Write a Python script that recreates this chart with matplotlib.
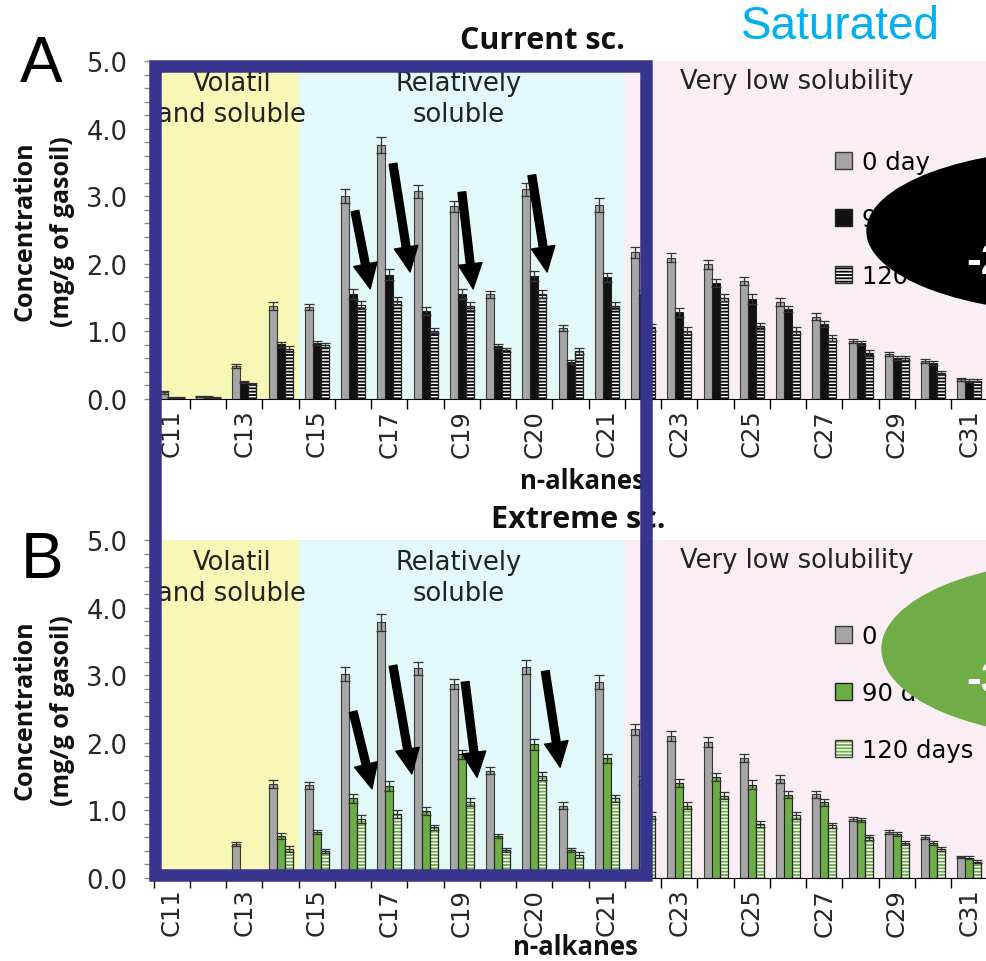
import matplotlib
matplotlib.use('Agg')
import matplotlib.pyplot as plt
import numpy as np
from matplotlib.patches import Rectangle, Ellipse, Patch, FancyArrowPatch

W, H = 987, 962

alkanes = ['C11', 'C12', 'C13', 'C14', 'C15', 'C16', 'C17', 'C18', 'C19', 'Pr', 'C20', 'Ph',
           'C21', 'C22', 'C23', 'C24', 'C25', 'C26', 'C27', 'C28', 'C29', 'C30', 'C31']

# mg/g of gasoil
current_0 = [0.10, 0.04, 0.49, 1.38, 1.36, 3.00, 3.76, 3.07, 2.85, 1.55, 3.10, 1.05,
             2.87, 2.17, 2.09, 1.99, 1.75, 1.43, 1.22, 0.86, 0.66, 0.56, 0.29]
current_90 = [0.02, 0.03, 0.25, 0.81, 0.83, 1.55, 1.84, 1.30, 1.55, 0.79, 1.82, 0.55,
              1.80, 1.55, 1.28, 1.72, 1.48, 1.33, 1.11, 0.83, 0.60, 0.53, 0.27]
current_120 = [0.02, 0.02, 0.22, 0.74, 0.80, 1.39, 1.45, 1.01, 1.38, 0.73, 1.55, 0.71,
               1.38, 1.06, 1.01, 1.50, 1.08, 1.01, 0.90, 0.68, 0.60, 0.39, 0.27]

extreme_0 = [0.02, 0.01, 0.50, 1.39, 1.37, 3.02, 3.78, 3.10, 2.87, 1.59, 3.12, 1.07,
             2.90, 2.20, 2.10, 2.01, 1.77, 1.46, 1.24, 0.87, 0.68, 0.60, 0.31]
extreme_90 = [0.01, 0.0, 0.02, 0.62, 0.68, 1.18, 1.36, 0.99, 1.83, 0.62, 1.98, 0.42,
              1.77, 1.45, 1.41, 1.50, 1.38, 1.23, 1.12, 0.86, 0.65, 0.52, 0.30]
extreme_120 = [0.0, 0.0, 0.02, 0.43, 0.40, 0.87, 0.95, 0.75, 1.12, 0.42, 1.51, 0.34,
               1.18, 0.92, 1.07, 1.22, 0.80, 0.93, 0.78, 0.60, 0.52, 0.43, 0.24]

err_0 = [0.02, 0.01, 0.03, 0.06, 0.05, 0.10, 0.12, 0.10, 0.08, 0.05, 0.10, 0.05,
         0.10, 0.08, 0.07, 0.07, 0.06, 0.06, 0.05, 0.03, 0.03, 0.03, 0.02]
err_90 = [0.01, 0.01, 0.02, 0.04, 0.03, 0.07, 0.08, 0.06, 0.07, 0.03, 0.08, 0.03,
          0.07, 0.06, 0.06, 0.06, 0.07, 0.05, 0.05, 0.03, 0.03, 0.03, 0.02]
err_120 = [0.01, 0.01, 0.02, 0.04, 0.03, 0.06, 0.06, 0.04, 0.06, 0.03, 0.06, 0.04,
           0.05, 0.05, 0.05, 0.05, 0.04, 0.05, 0.04, 0.04, 0.03, 0.03, 0.02]

series_labels = ['0 day', '90 days', '120 days']
zones = ['Volatil\nand soluble', 'Relatively\nsoluble', 'Very low solubility']

# arrows (x0, y0, x1, y1) in data units
arrows_current = [(5.05, 2.78, 5.47, 1.63), (6.10, 3.48, 6.57, 1.88),
                  (8.00, 3.06, 8.31, 1.63), (9.93, 3.31, 10.35, 1.88)]
arrows_extreme = [(5.00, 2.46, 5.52, 1.32), (6.10, 3.14, 6.62, 1.54),
                  (8.09, 2.90, 8.42, 1.49), (10.30, 3.06, 10.71, 1.64)]

plt.rcParams['hatch.linewidth'] = 1.3

GRAY = '#a6a6a6'
GREEN = '#6dad46'
NAVY = '#36348c'


def px(x, y):
    return (x / W, 1 - y / H)


def draw_panel(ax, v0, v90, v120, c90, hatch_c, arrows):
    x = np.arange(len(alkanes))
    ax.axvspan(-0.7, 3.5, color='#f8f8b6', lw=0, zorder=0)
    ax.axvspan(3.5, 12.5, color='#e3f8f8', lw=0, zorder=0)
    ax.axvspan(12.5, 24, color='#faeef4', lw=0, zorder=0)
    w = 0.22
    ax.bar(x - w, v0, w, color=GRAY, edgecolor='#3a3a3a', lw=0.8, zorder=2)
    ax.bar(x, v90, w, color=c90, edgecolor='#222222', lw=0.8, zorder=2)
    ax.bar(x + w, v120, w, color='white', edgecolor=hatch_c, hatch='-----', lw=0, zorder=2)
    ax.bar(x + w, v120, w, fill=False, edgecolor='#222222', lw=0.9, zorder=3)
    for off, v, e in [(-w, v0, err_0), (0, v90, err_90), (w, v120, err_120)]:
        ax.errorbar(x + off, v, yerr=e, fmt='none', ecolor='#333333', elinewidth=0.9,
                    capsize=3.5, capthick=0.9, zorder=4)

    ax.set_xlim(-0.5, 23.5)
    ax.set_ylim(0, 5)
    ax.set_xticks(np.arange(-0.5, 23.5, 1))
    ax.set_xticklabels([])
    ax.set_xticks(x[::2], minor=True)
    ax.set_xticklabels(alkanes[::2], minor=True, rotation=90, fontsize=17.5, color='#262626')
    ax.tick_params(axis='x', which='major', length=7, width=1, color='black')
    ax.tick_params(axis='x', which='minor', length=0, pad=7)
    ax.set_yticks(np.arange(0, 5.1, 1))
    ax.set_yticklabels(['%.1f' % t for t in np.arange(0, 5.1, 1)], fontsize=18.5, color='#262626')
    ax.set_yticks(np.arange(0, 5.01, 0.2), minor=True)
    ax.tick_params(axis='y', which='both', length=7, width=1, color='#888888', pad=12)
    for s in ['top', 'right']:
        ax.spines[s].set_visible(False)
    ax.spines['bottom'].set_color('black')
    ax.spines['left'].set_color('#888888')

    ax.text(1.65, 4.44, zones[0], ha='center', va='center', fontsize=18.5, color='#222222',
            linespacing=1.25, zorder=1)
    ax.text(7.9, 4.44, zones[1], ha='center', va='center', fontsize=18.5, color='#222222',
            linespacing=1.25, zorder=1)
    ax.text(17.25, 4.71, zones[2], ha='center', va='center', fontsize=18.5, color='#222222',
            zorder=1)

    for x0, y0, x1, y1 in arrows:
        ax.add_patch(FancyArrowPatch((x0, y0), (x1, y1),
                                     arrowstyle='simple,head_length=0.9,head_width=0.85,tail_width=0.28',
                                     mutation_scale=20, color='black', shrinkA=0, shrinkB=0,
                                     zorder=5, clip_on=False))

    handles = [Patch(facecolor=GRAY, edgecolor='#3a3a3a', lw=1),
               Patch(facecolor=c90, edgecolor='#222222', lw=1),
               (Patch(facecolor='white', edgecolor=hatch_c, hatch='-----', lw=0),
                Patch(fill=False, edgecolor='#333333', lw=1))]
    return handles


fig = plt.figure(figsize=(W / 100, H / 100), dpi=100)
ax_a = fig.add_axes([153.75 / W, 1 - 400 / H, 870 / W, 338 / H])
ax_b = fig.add_axes([153.75 / W, 1 - 879 / H, 870 / W, 338 / H])

h_a = draw_panel(ax_a, current_0, current_90, current_120, '#111111', 'black', arrows_current)
h_b = draw_panel(ax_b, extreme_0, extreme_90, extreme_120, GREEN, GREEN, arrows_extreme)

for ax, h, top in [(ax_a, h_a, 151), (ax_b, h_b, 625)]:
    ax.legend(h, series_labels, loc='upper left', bbox_to_anchor=px(835, top),
              bbox_transform=fig.transFigure, frameon=False, fontsize=17.5,
              handlelength=0.7, handleheight=0.7, handletextpad=0.4, labelspacing=1.35,
              borderpad=0, borderaxespad=0)

# titles and labels
bold = dict(family='Open Sans', weight='bold', color='#111111')
fig.text(*px(542, 41), 'Current sc.', ha='center', va='center', fontsize=22, **bold)
fig.text(*px(578, 520), 'Extreme sc.', ha='center', va='center', fontsize=22, **bold)
fig.text(*px(582, 482), 'n-alkanes', ha='center', va='center', fontsize=18.5, **bold)
fig.text(*px(575, 948), 'n-alkanes', ha='center', va='center', fontsize=18.5, **bold)
for yc in [231, 710]:
    fig.text(*px(25, yc), 'Concentration', ha='center', va='center', rotation=90,
             fontsize=18, **bold)
    fig.text(*px(63, yc + 1), '(mg/g of gasoil)', ha='center', va='center', rotation=90,
             fontsize=18, **bold)
fig.text(*px(41, 65), 'A', ha='center', va='center', fontsize=46, family='Liberation Sans')
fig.text(*px(42, 561), 'B', ha='center', va='center', fontsize=46, family='Liberation Sans')
fig.text(*px(840, 27), 'Saturated', ha='center', va='center', fontsize=33,
         family='Liberation Sans', color='#00b0f0')

# overlays
fig.add_artist(Rectangle(px(155.5, 876), 490.5 / W, 809 / H, transform=fig.transFigure,
                         fill=False, edgecolor=NAVY, lw=9, zorder=10))
fig.add_artist(Ellipse(px(1085, 232), 436 / W, 164 / H, transform=fig.transFigure,
                       color='black', zorder=8))
fig.add_artist(Ellipse(px(1090, 650), 416 / W, 177 / H, transform=fig.transFigure,
                       color='#70ad47', zorder=8))
fig.text(*px(966, 263), '-2', ha='left', va='center', fontsize=32, weight='bold',
         family='Liberation Sans', color='white', zorder=9)
fig.text(*px(966, 682), '-3', ha='left', va='center', fontsize=32, weight='bold',
         family='Liberation Sans', color='white', zorder=9)

fig.savefig('out.png', dpi=100)
